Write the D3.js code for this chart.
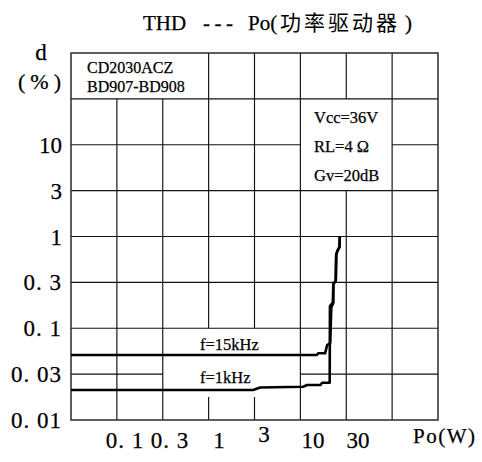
<!DOCTYPE html>
<html>
<head>
<meta charset="utf-8">
<script src="https://cdn.jsdelivr.net/npm/d3@7"></script>
<style>
  html, body { margin: 0; padding: 0; background: #fff; }
</style>
</head>
<body>
<svg id="chart" width="482" height="462"></svg>
<script>
// THD versus output power of the CD2030 power driver with BD907/BD908 outputs
const titleParts = ["THD", "---", "Po(", "功率驱动器", ")"];
const yTicks = [0.01, 0.03, 0.1, 0.3, 1, 3, 10];
const yTickLabels = ["0. 01", "0. 03", "0. 1", "0. 3", "1", "3", "10"];
const xTicks = [0.1, 0.3, 1, 3, 10, 30];
const xTickLabels = ["0. 1", "0. 3", "1", "3", "10", "30"];
const deviceLines = ["CD2030ACZ", "BD907-BD908"];
const conditionLines = ["Vcc=36V", "RL=4 Ω", "Gv=20dB"];
const seriesNames = ["f=15kHz", "f=1kHz"];

// Output power Po (W) and distortion d (%) along each measured curve
const po15k  = [0.0267, 10.9, 11.3, 13.4, 14.1, 15.2, 15.6, 16.4, 16.4, 17.4, 17.6, 18.1, 19.1, 19.2];
const thd15k = [0.0495, 0.0495, 0.0518, 0.0518, 0.0644, 0.0678, 0.165, 0.183, 0.29, 0.31, 0.62, 0.68, 0.76, 1.0];
const po1k   = [0.0267, 2.30, 2.73, 7.83, 8.63, 11.9, 12.5, 15.0, 15.1, 16.2, 16.4, 17.4, 17.6, 18.1, 19.1, 19.2];
const thd1k  = [0.0205, 0.0205, 0.0218, 0.0222, 0.0231, 0.0231, 0.0244, 0.0244, 0.17, 0.185, 0.29, 0.31, 0.62, 0.68, 0.76, 1.0];

const FONT = "'Liberation Serif', 'Noto Sans CJK SC', serif";
const CJK = "'Noto Sans CJK SC', sans-serif";

const svg = d3.select("#chart").style("font-family", FONT);

// Frame of the grid: 8 columns x 8 rows
const frame = { left: 71, right: 438, top: 53, bottom: 420 };
const nCols = 8, nRows = 8;
const colX = d3.scaleLinear().domain([0, nCols]).range([frame.left, frame.right]);
const rowY = d3.scaleLinear().domain([0, nRows]).range([frame.top, frame.bottom]);

// Distortion scale: one grid row per 1-3-10 step, bottom row line = 0.01 %
const y = d3.scaleLog()
  .domain(yTicks)
  .range(yTicks.map((_, i) => rowY(nRows - i)));

// Power scale: logarithmic, labelled decades under the grid
const x = d3.scaleLog().domain([0.1, 30]).range([125, 358]);

// Text boxes that interrupt the grid (in column/row units)
const boxes = [
  { c0: 0, c1: 3, r0: 0, r1: 1 },     // device names
  { c0: 5, c1: 7, r0: 1, r1: 3 },     // test conditions
  { c0: 2, c1: 5, r0: 6, r1: 7.5 }    // curve names
];

function cutSegments(from, to, holes) {
  let segs = [[from, to]];
  holes.forEach(([a, b]) => {
    const next = [];
    segs.forEach(([s, e]) => {
      if (b <= s || a >= e) { next.push([s, e]); return; }
      if (a > s) next.push([s, a]);
      if (b < e) next.push([b, e]);
    });
    segs = next;
  });
  return segs;
}

const gridLines = [];
for (let i = 1; i < nCols; i++) {
  const holes = boxes.filter(b => b.c0 < i && i < b.c1).map(b => [b.r0, b.r1]);
  cutSegments(0, nRows, holes).forEach(([a, b]) =>
    gridLines.push({ x1: colX(i), x2: colX(i), y1: rowY(a), y2: rowY(b) }));
}
for (let j = 1; j < nRows; j++) {
  const holes = boxes.filter(b => b.r0 < j && j < b.r1).map(b => [b.c0, b.c1]);
  cutSegments(0, nCols, holes).forEach(([a, b]) =>
    gridLines.push({ x1: colX(a), x2: colX(b), y1: rowY(j), y2: rowY(j) }));
}

svg.append("g")
  .attr("stroke", "#111")
  .attr("stroke-width", 1.15)
  .selectAll("line")
  .data(gridLines)
  .join("line")
  .attr("x1", d => d.x1).attr("x2", d => d.x2)
  .attr("y1", d => d.y1).attr("y2", d => d.y2);

svg.append("rect")
  .attr("x", frame.left).attr("y", frame.top)
  .attr("width", frame.right - frame.left)
  .attr("height", frame.bottom - frame.top)
  .attr("fill", "none")
  .attr("stroke", "#2a2a2a")
  .attr("stroke-width", 1.5);

// Shared text styling: black serif glyphs with a hairline outline for weight
function label(sel) {
  return sel.attr("fill", "#000")
    .attr("stroke", "#000")
    .attr("stroke-width", 0.25)
    .style("font-family", FONT);
}

// Title, set piece by piece on a fixed character pitch
const titleX = [143, 203, 248, 280, 405];
const title = label(svg.append("text")).attr("y", 30).attr("font-size", 21);
title.selectAll("tspan")
  .data(titleParts)
  .join("tspan")
  .attr("x", (d, i) => titleX[i])
  .attr("letter-spacing", (d, i) => i === 1 ? 4.5 : i === 3 ? 3 : 0)
  .style("font-family", (d, i) => i === 3 ? CJK : FONT)
  .attr("stroke-width", (d, i) => i === 3 ? 0 : 0.25)
  .text(d => d);

// Y axis labels
label(svg.append("g")
  .selectAll("text")
  .data(yTicks)
  .join("text"))
  .attr("x", 62)
  .attr("y", d => y(d) + 8)
  .attr("text-anchor", "end")
  .attr("font-size", 23)
  .attr("letter-spacing", (d, i) => yTickLabels[i].length > 2 ? 1 : 0)
  .text((d, i) => yTickLabels[i]);

// Y axis name
label(svg.append("text"))
  .attr("x", 41).attr("y", 60)
  .attr("text-anchor", "middle")
  .attr("font-size", 23)
  .text("d");
label(svg.append("text"))
  .attr("x", 42).attr("y", 89)
  .attr("text-anchor", "middle")
  .attr("font-size", 22)
  .attr("letter-spacing", 5)
  .text("(%)");

// X axis labels
const labelLift = { 3: 6 };
label(svg.append("g")
  .selectAll("text")
  .data(xTicks)
  .join("text"))
  .attr("x", d => x(d))
  .attr("y", d => 448 - (labelLift[d] || 0))
  .attr("text-anchor", "middle")
  .attr("font-size", 23)
  .attr("letter-spacing", (d, i) => xTickLabels[i].length > 2 ? 1 : 0)
  .text((d, i) => xTickLabels[i]);

label(svg.append("text"))
  .attr("x", 413).attr("y", 443)
  .attr("font-size", 21)
  .attr("letter-spacing", 1.5)
  .text("Po(W)");

// Device names
label(svg.append("g")
  .selectAll("text")
  .data(deviceLines)
  .join("text"))
  .attr("x", 87)
  .attr("y", (d, i) => 73 + i * 19)
  .attr("font-size", 16)
  .text(d => d);

// Test conditions
label(svg.append("g")
  .selectAll("text")
  .data(conditionLines)
  .join("text"))
  .attr("x", 314)
  .attr("y", (d, i) => 123 + i * 29)
  .attr("font-size", 16.5)
  .text(d => d);

// Curve names
label(svg.append("g")
  .selectAll("text")
  .data(seriesNames)
  .join("text"))
  .attr("x", 200)
  .attr("y", (d, i) => 350 + i * 33)
  .attr("font-size", 16.5)
  .text(d => d);

// Curves
const series = [
  po15k.map((p, i) => [p, thd15k[i]]),
  po1k.map((p, i) => [p, thd1k[i]])
];
const line = d3.line().x(d => x(d[0])).y(d => y(d[1]));

svg.append("g")
  .selectAll("path")
  .data(series)
  .join("path")
  .attr("d", line)
  .attr("fill", "none")
  .attr("stroke", "#000")
  .attr("stroke-width", 2.6)
  .attr("stroke-linejoin", "round");
</script>
</body>
</html>
